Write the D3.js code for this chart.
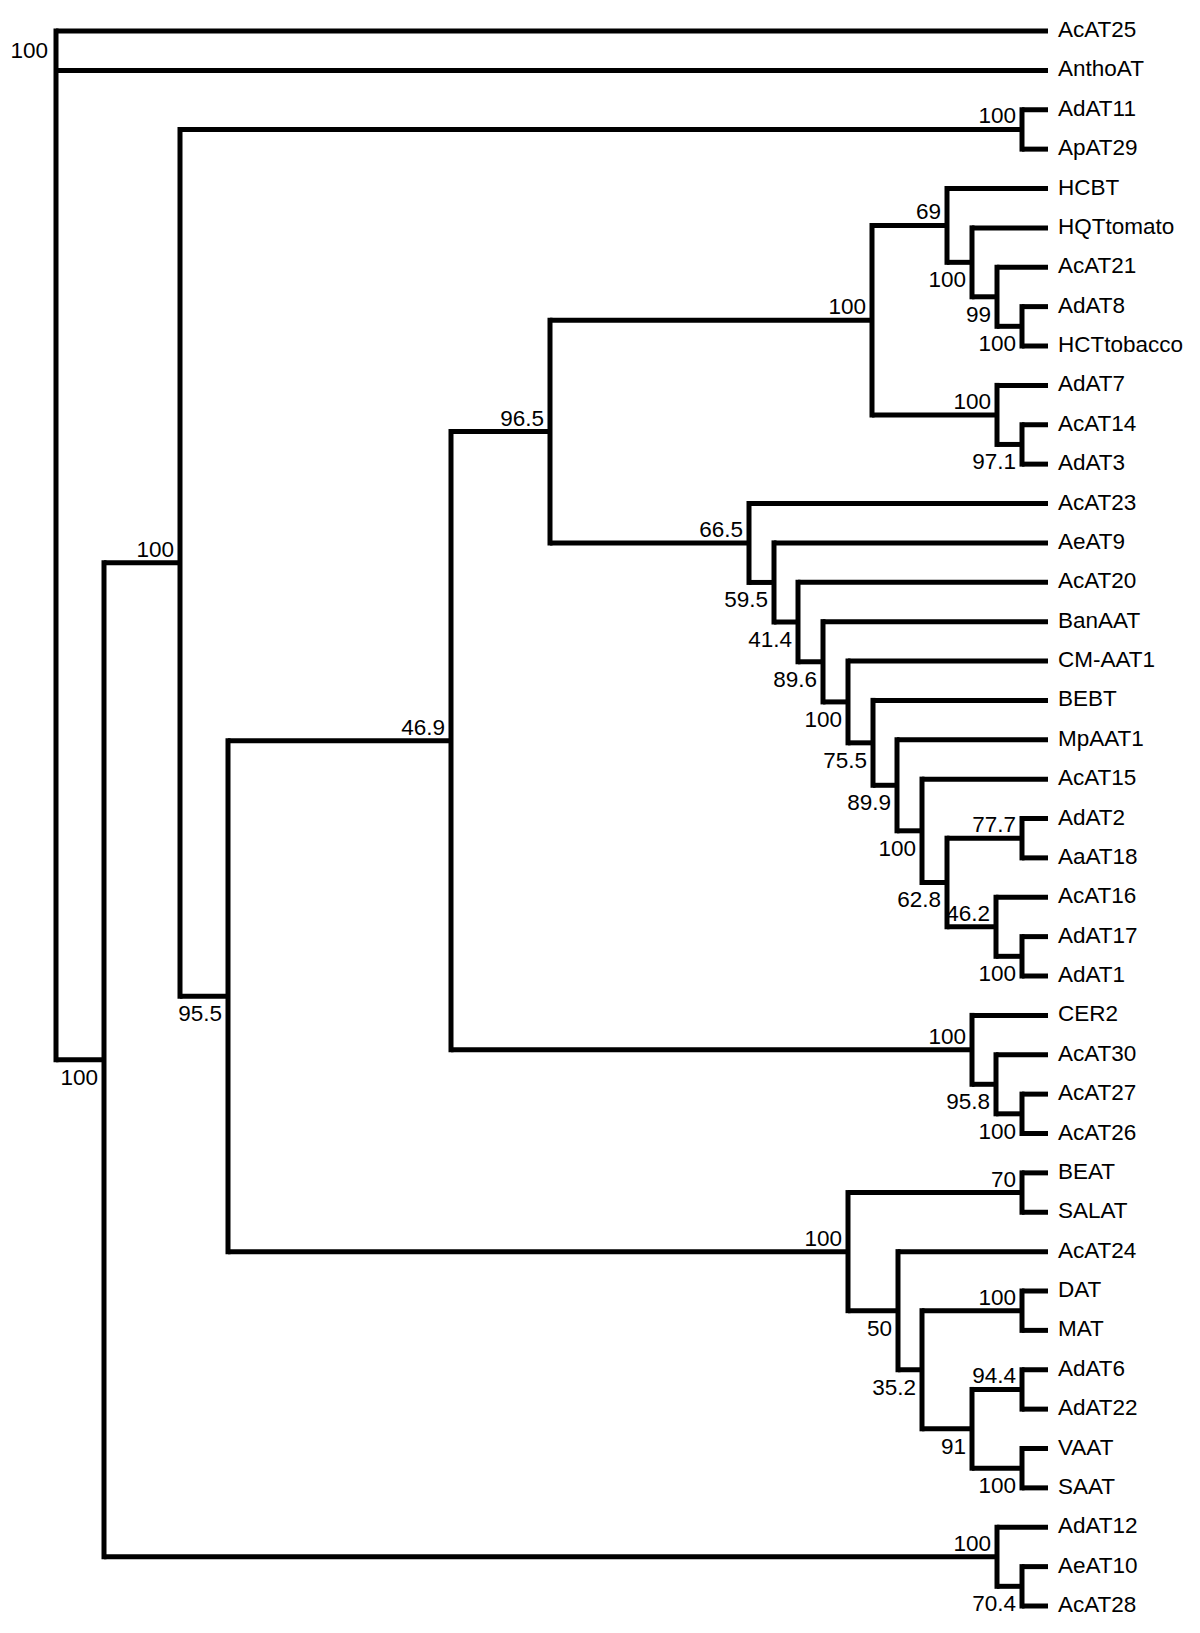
<!DOCTYPE html>
<html><head><meta charset="utf-8">
<script src="https://cdn.jsdelivr.net/npm/d3@7"></script>
<style>body{margin:0;background:#fff} svg{display:block}</style>
</head><body>
<svg id="chart" width="1200" height="1633"></svg>
<script>
// Leaves, top to bottom, with the clade each one hangs from
const leafNames = ["AcAT25","AnthoAT","AdAT11","ApAT29","HCBT","HQTtomato","AcAT21","AdAT8","HCTtobacco",
  "AdAT7","AcAT14","AdAT3","AcAT23","AeAT9","AcAT20","BanAAT","CM-AAT1","BEBT","MpAAT1","AcAT15",
  "AdAT2","AaAT18","AcAT16","AdAT17","AdAT1","CER2","AcAT30","AcAT27","AcAT26","BEAT","SALAT",
  "AcAT24","DAT","MAT","AdAT6","AdAT22","VAAT","SAAT","AdAT12","AeAT10","AcAT28"];
const leafParents = ["root","root","P","P","I","K","L","M","M",
  "J","N","N","H","H2","H3","H4","H5","H6","H7","H8",
  "Q","Q","R","S","S","T","T2","U","U","V","V",
  "W","Y","Y","Z1","Z1","Z2","Z2","AA","AB","AB"];
// Internal clades: id, parent, distance from root, bootstrap support
const cladeIds     = ["root","A","B","P","C","D","F","G","I","K","L","M","J","N",
  "H","H2","H3","H4","H5","H6","H7","H8","H9","Q","R","S",
  "T","T2","U","E","V","W","X","Y","Z","Z1","Z2","AA","AB"];
const cladeParents = [null,"root","A","B","B","C","D","F","G","I","K","L","G","J",
  "F","H","H2","H3","H4","H5","H6","H7","H8","H9","H9","R",
  "D","T","T2","C","E","E","W","X","X","Z","Z","A","AA"];
const cladeDepths  = [0,48,124,966,172,395,494,816,891,916,941,966,941,966,
  693,718,742,767,792,817,841,866,891,966,940,966,
  916,940,966,792,966,842,866,966,916,966,966,941,966];
const cladeSupport = [100,100,100,100,95.5,46.9,96.5,100,69,100,99,100,100,97.1,
  66.5,59.5,41.4,89.6,100,75.5,89.9,100,62.8,77.7,46.2,100,
  100,95.8,100,100,70,50,35.2,100,91,94.4,100,100,70.4];
const tipDepth = 992;
// clades whose support value sits under their stem rather than above it
const labelsBelow = ["A","C","K","L","M","N","H2","H3","H4","H5","H6","H7","H8","H9",
  "S","T2","U","W","X","Z","Z2","AB"];

const rows = cladeIds.map((id, i) => ({id, parent: cladeParents[i], depth: cladeDepths[i], support: cladeSupport[i]}))
  .concat(leafNames.map((id, i) => ({id, parent: leafParents[i], depth: tipDepth, support: null, order: i})));

const root = d3.stratify().id(d => d.id).parentId(d => d.parent)(rows);
root.eachAfter(n => { n.minOrder = n.children ? d3.min(n.children, c => c.minOrder) : n.data.order; });
root.sort((a, b) => a.minOrder - b.minOrder);

const yScale = d3.scalePoint().domain(leafNames).range([31, 1606]);
const xScale = d3.scaleLinear().domain([0, tipDepth]).range([56, 1048]);

root.eachAfter(n => {
  n.px = xScale(n.data.depth);
  n.py = n.children ? (n.children[0].py + n.children[n.children.length - 1].py) / 2 : yScale(n.id);
});

const svg = d3.select("#chart");
const font = "'Liberation Sans', Arial, Helvetica, sans-serif";
const SW = 5;

// vertical connectors
svg.append("g").selectAll("line").data(root.descendants().filter(n => n.children)).join("line")
  .attr("x1", n => n.px).attr("x2", n => n.px)
  .attr("y1", n => n.children[0].py).attr("y2", n => n.children[n.children.length - 1].py)
  .attr("stroke", "#000").attr("stroke-width", SW).attr("stroke-linecap", "square");

// horizontal branches
svg.append("g").selectAll("line").data(root.descendants().filter(n => n.parent)).join("line")
  .attr("x1", n => n.parent.px).attr("x2", n => n.px)
  .attr("y1", n => n.py).attr("y2", n => n.py)
  .attr("stroke", "#000").attr("stroke-width", SW).attr("stroke-linecap", "butt");

svg.append("g").selectAll("text").data(root.leaves()).join("text")
  .attr("x", n => n.px + 10).attr("y", n => n.py + 6)
  .attr("font-family", font).attr("font-size", 22.5).attr("fill", "#000")
  .text(n => n.id);

svg.append("g").selectAll("text").data(root.descendants().filter(n => n.children)).join("text")
  .attr("x", n => n.parent ? n.px - 6 : n.px - 8)
  .attr("y", n => !n.parent ? n.children[0].py + 27 : (labelsBelow.includes(n.id) ? n.py + 25 : n.py - 6))
  .attr("text-anchor", "end")
  .attr("font-family", font).attr("font-size", 22.5).attr("fill", "#000")
  .text(n => n.data.support);
</script>
</body></html>
